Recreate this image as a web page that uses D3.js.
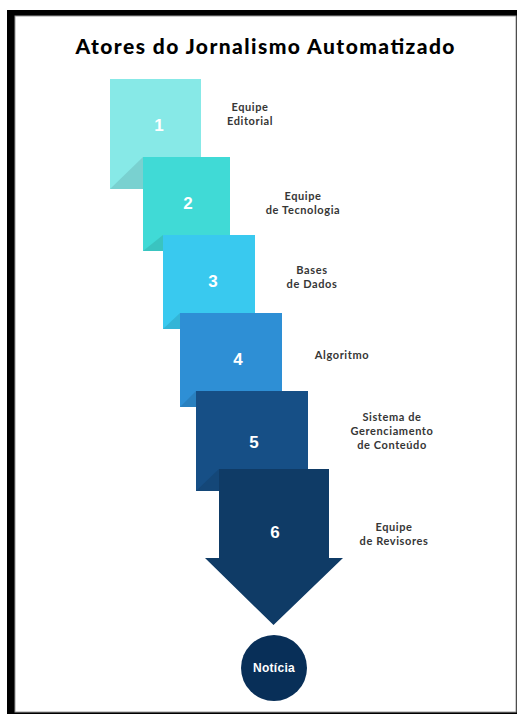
<!DOCTYPE html>
<html>
<head>
<meta charset="utf-8">
<script src="https://cdn.jsdelivr.net/npm/d3@7"></script>
<style>
  html, body { margin: 0; padding: 0; background: #ffffff; }
  svg { display: block; }
</style>
</head>
<body>
<div id="chart"></div>
<script>
const title = 'Atores do Jornalismo Automatizado';
const steps = [1, 2, 3, 4, 5, 6];
const stepLabels = [
    ['Equipe', 'Editorial'],
    ['Equipe', 'de Tecnologia'],
    ['Bases', 'de Dados'],
    ['Algoritmo'],
    ['Sistema de', 'Gerenciamento', 'de Conteúdo'],
    ['Equipe', 'de Revisores']
];
const stepColors = ['#87e9e7', '#40dad6', '#39c9ef', '#2e8fd5', '#164f86', '#0f3b66'];
const outcome = 'Notícia';

const width = 519;
const height = 714;
const svg = d3.select('#chart').append('svg')
    .attr('width', width)
    .attr('height', height);

// frame with heavy top/left edge
svg.append('rect').attr('x', 7).attr('y', 10).attr('width', 510).attr('height', 704).attr('fill', '#000');
svg.append('rect').attr('x', 15).attr('y', 16).attr('width', 501).attr('height', 696)
    .attr('fill', '#fff').attr('stroke', '#9a9a9a').attr('stroke-width', 1);

svg.append('text')
    .attr('x', 265)
    .attr('y', 54)
    .attr('text-anchor', 'middle')
    .attr('fill', '#000')
    .attr('textLength', 379)
    .attr('lengthAdjust', 'spacing')
    .style('font-family', 'Lato, sans-serif')
    .style('font-weight', '900')
    .style('font-size', '21px')
    .text(title);

// staircase layout: rows step down evenly, columns drift right
const y = d3.scalePoint().domain(steps).range([79, 469]);
const xLeft = d3.scaleOrdinal().domain(steps).range([110, 143, 163, 180, 196, 219]);
const boxW = d3.scaleOrdinal().domain(steps).range([91, 87, 92, 102, 112, 110]);
const boxH = d3.scaleOrdinal().domain(steps).range([110, 94, 94, 94, 100, 89]);
const numX = d3.scaleOrdinal().domain(steps).range([159, 188, 213, 238, 254, 275]);
const numY = d3.scaleOrdinal().domain(steps).range([131, 209, 287, 365, 448, 538]);
const labelX = d3.scaleOrdinal().domain(steps).range([250, 303, 312, 342, 392, 394]);
const labelY = d3.scaleOrdinal().domain(steps).range([114, 203, 277, 355, 431, 534]);
const color = d3.scaleOrdinal().domain(steps).range(stepColors);

const data = steps.map((s, i) => ({ step: s, label: stepLabels[i] }));
const last = steps[steps.length - 1];

const groups = svg.selectAll('.step')
    .data(data)
    .enter()
    .append('g')
    .attr('class', 'step');

groups.append('path')
    .attr('fill', d => color(d.step))
    .attr('d', d => {
        const x0 = xLeft(d.step), y0 = y(d.step), w = boxW(d.step), h = boxH(d.step);
        if (d.step !== last) {
            return `M${x0},${y0}H${x0 + w}V${y0 + h}H${x0}Z`;
        }
        const head = 14;
        const tip = 67;
        return `M${x0},${y0}H${x0 + w}V${y0 + h}H${x0 + w + head}L${x0 + w / 2 - 0.5},${y0 + h + tip}` +
            `L${x0 - head},${y0 + h}H${x0}Z`;
    });

// folded corner where the next box tucks in
groups.filter(d => d.step !== last).append('path')
    .attr('fill', d => d3.color(color(d.step)).darker(0.3))
    .attr('d', d => {
        const n = d.step + 1;
        const bottom = y(d.step) + boxH(d.step);
        return `M${xLeft(d.step)},${bottom}L${xLeft(n)},${y(n)}V${bottom}Z`;
    });

groups.append('text')
    .attr('x', d => numX(d.step))
    .attr('y', d => numY(d.step))
    .attr('text-anchor', 'middle')
    .attr('fill', '#fff')
    .style('font-family', '"Liberation Sans", Arial, sans-serif')
    .style('font-weight', '700')
    .style('font-size', '17px')
    .text(d => d.step);

const labels = svg.selectAll('.step-label')
    .data(data)
    .enter()
    .append('text')
    .attr('class', 'step-label')
    .attr('text-anchor', 'middle')
    .attr('fill', '#363636')
    .style('font-family', 'Lato, sans-serif')
    .style('font-weight', '700')
    .style('font-size', '11px')
    .style('letter-spacing', '0.6px');

labels.selectAll('tspan')
    .data(d => d.label.map((t, i) => ({ t, i, n: d.label.length, step: d.step })))
    .enter()
    .append('tspan')
    .attr('x', d => labelX(d.step))
    .attr('y', d => labelY(d.step) + (d.i - (d.n - 1) / 2) * 14 + 4)
    .text(d => d.t);

svg.append('circle')
    .attr('cx', 274)
    .attr('cy', 668)
    .attr('r', 33)
    .attr('fill', '#082f58');

svg.append('text')
    .attr('x', 274)
    .attr('y', 672)
    .attr('text-anchor', 'middle')
    .attr('fill', '#fff')
    .style('font-family', '"Liberation Sans", Arial, sans-serif')
    .style('font-weight', '700')
    .style('font-size', '12px')
    .style('letter-spacing', '0.3px')
    .text(outcome);
</script>
</body>
</html>
